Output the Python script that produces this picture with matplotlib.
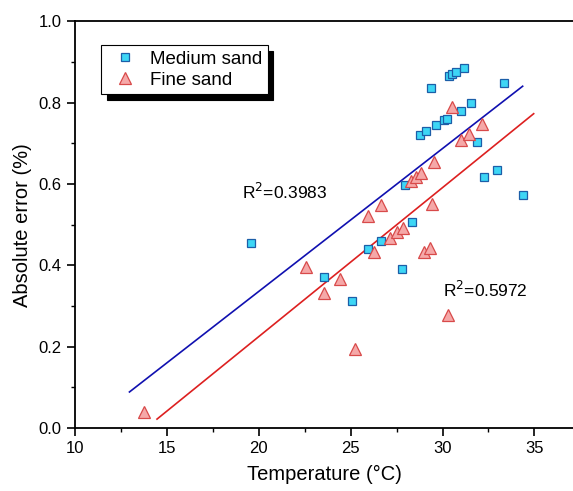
import numpy as np
import matplotlib
matplotlib.use("Agg")
import matplotlib.pyplot as plt

plt.rcParams['font.family'] = ['Liberation Sans', 'DejaVu Sans']

# medium sand (squares)
medium_t = [19.57, 23.55, 25.07, 25.94, 26.66, 27.80, 27.93, 28.35, 28.75, 29.08,
            29.35, 29.65, 30.07, 30.25, 30.34, 30.52, 30.74, 30.98, 31.16, 31.54,
            31.86, 32.24, 32.96, 33.33, 34.37]
medium_err = [0.456, 0.371, 0.312, 0.440, 0.459, 0.390, 0.597, 0.507, 0.719, 0.729,
              0.835, 0.744, 0.756, 0.760, 0.864, 0.869, 0.875, 0.780, 0.886, 0.798,
              0.703, 0.617, 0.634, 0.847, 0.574]

# fine sand (triangles)
fine_t = [13.77, 22.55, 23.55, 24.44, 25.22, 25.94, 26.25, 26.65, 27.15, 27.53,
          27.84, 28.26, 28.53, 28.84, 28.98, 29.30, 29.42, 29.53, 30.28, 30.52,
          31.03, 31.43, 32.15]
fine_err = [0.040, 0.397, 0.333, 0.367, 0.195, 0.522, 0.433, 0.548, 0.466, 0.481,
            0.492, 0.607, 0.617, 0.627, 0.432, 0.443, 0.551, 0.653, 0.277, 0.790,
            0.708, 0.722, 0.747]

# linear fits: slope, intercept, x range
medium_fit = (0.0351, -0.366, 12.96, 34.36)
fine_fit = (0.0366, -0.507, 14.46, 34.96)

fig = plt.figure(figsize=(5.73, 4.91), dpi=100)
ax = fig.add_axes([0.131, 0.128, 0.869, 0.829])

for fit, col in [(medium_fit, '#1010b0'), (fine_fit, '#dd2020')]:
    k, b, x0, x1 = fit
    xs = np.array([x0, x1])
    ax.plot(xs, k * xs + b, color=col, lw=1.2, zorder=2)

ax.plot(medium_t, medium_err, 's', ms=6, mfc='#3dd6f5', mec='#1c5ea8', mew=0.9,
        ls='none', label='Medium sand', zorder=3)
ax.plot(fine_t, fine_err, '^', ms=8, mfc='#f5a8a8', mec='#d84a4a', mew=0.9,
        ls='none', label='Fine sand', zorder=3)

ax.text(19.08, 0.581, r'R$^2$=0.3983', fontsize=12.5, va='center')
ax.text(30.0, 0.34, r'R$^2$=0.5972', fontsize=12.5, va='center')

ax.set_xlim(10, 37.1)
ax.set_ylim(0, 1.0)
ax.set_xticks([10, 15, 20, 25, 30, 35])
ax.set_yticks([0.0, 0.2, 0.4, 0.6, 0.8, 1.0])
ax.set_yticklabels(['0.0', '0.2', '0.4', '0.6', '0.8', '1.0'])
ax.set_xticks(np.arange(12.5, 37, 5), minor=True)
ax.set_yticks(np.arange(0.1, 1.0, 0.2), minor=True)
ax.tick_params(which='major', direction='out', length=6, width=1.2, labelsize=12)
ax.tick_params(which='minor', direction='out', length=3, width=1.0)
ax.spines['right'].set_visible(False)
for s in ['left', 'bottom', 'top']:
    ax.spines[s].set_linewidth(1.3)

ax.set_xlabel('Temperature (°C)', fontsize=14.5, labelpad=6)
ax.set_ylabel('Absolute error (%)', fontsize=14.5, labelpad=5)

leg = ax.legend(loc='upper left', bbox_to_anchor=(0.052, 0.941), borderaxespad=0,
                fontsize=13.5, fancybox=False, edgecolor='black', framealpha=1,
                shadow={'color': 'black', 'alpha': 1, 'ox': 4, 'oy': -4},
                handlelength=2.0, handletextpad=0.3, borderpad=0.3,
                labelspacing=0.2)
leg.get_frame().set_linewidth(0.8)

fig.savefig('out.png', dpi=100)
